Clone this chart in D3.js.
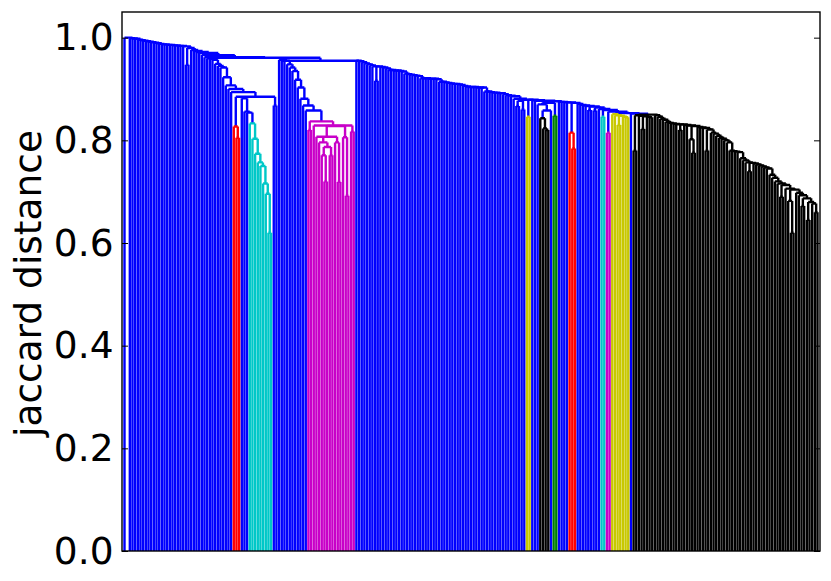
<!DOCTYPE html>
<html><head><meta charset="utf-8">
<script src="https://cdnjs.cloudflare.com/ajax/libs/d3/7.8.5/d3.min.js"></script>
<style>html,body{margin:0;background:#fff}svg{display:block}</style>
</head><body><svg id="c" width="831" height="581"></svg>
<script>
// A tree node is [mergeHeight, child, child, ...]; 0 is a leaf.
// Chain items: a number (leaf merged with the rest at that height) or [height, subtree].
const yTicks = [0, 0.2, 0.4, 0.6, 0.8, 1.0];
const yLabel = "jaccard distance";
const BLUE = "#0000ff", RED = "#ff0000", CYAN = "#00c8c8", MAGENTA = "#c800c8",
      YELLOW = "#c8c800", BLACK = "#000000", GREEN = "#008000";

const headHeights = [1.0, .999, .9985, .998, .996, .995, .994, .993, .992, .991, .99, .989, .988, .987, .987,
  .986, .986, .985, .985, .984, .984, .983, [.98, [.947, 0, 0]], .976, .974, .972, .97, .966, .962];
const stairHeights = [.96, .959, .957, .949, .945, .942, .923, .907, .9, .894];
const redA = [.827, 0, [.805, 0, 0]];
const blueStepHeights = [.882, .856, .854];
const cyanHeights = [.833, .803, .774, .757, .75, .716, .696, .62];
const pairAfterCyan = [.868, 0, 0];
const blockBHeights = [.957, .956, .955, .948, .942, .935, .918, .903, .881, .868, .858];
const magentaTree = [.837, [.82, 0, 0],
  [.829, 0,
    [.828,
      [.807, 0,
        [.796, 0,
          [.787, [.771, 0, [.72, 0, 0]], [.771, 0, 0]]],
        [.796, 0, [.719, 0, 0]]],
      [.806, 0, [.692, 0, 0]]],
    [.817, 0, 0]]];
const bigHeights = [.955, .954, .952, .95, .948, .946, .944, [.944, [.916, 0, 0]], .943, .942, .94, .937, .937,
  .936, .936, .935, .934, .93, .929, .928, .927, .926, .925, .921, .921, .921, .92, .92, .92, .919, .914, .914,
  .913, .912, .911, .91, .91, .909, .908, .906, .905, .904, .904, .904, .903, .903, .903, .895, .895, .894, .893,
  .893, .892, .892, .89, .888, .887, .886, .881];
const smallFork = [.877, [.867, 0, 0], [.86, 0, 0]];
const yellowPair = [.846, 0, 0];
const midHeights = [.878, .877];
const blackSmall = [.843, 0, [.823, 0, [.82, 0, 0]]];
const greenPair = [.848, 0, 0];
const afterGreenHeights = [.875, .875, .874, .874];
const redB = [.815, 0, [.784, 0, 0]];
const afterRedHeights = [.871, .869, .868, .867, [.866, [.859, 0, 0]], [.864, [.858, 0, 0]], .861];
const cyanPair = [.846, 0, 0];
const magentaPair = [.815, 0, 0];
const yellowHeights = [.851, .849, [.848, [.83, 0, 0]], .846, .845];
const blackLeftHeights = [[.849, [.78, 0, 0]], .848, [.847, [.822, 0, 0]], .846, .845];
const blackRightHeights = [.849, .846, .842, .84, .836, .834, .833, .832, .831, [.831, [.82, 0, 0]], .83, .829,
  [.828, [.802, 0, [.776, 0, 0]]], .826, .825, .824, [.821, [.78, 0, 0]], .815, .813, .809, .805, .803, .8, .796,
  .78, .779, .778, .777, .765, .761, .757, [.756, [.74, 0, 0]], .755, .753, .751, .749, .747, .745, .733, .727,
  .72, .716, [.713, [.69, 0, 0]], .706, [.704, [.682, 0, [.62, 0, 0]]], .698, .693, [.687, [.672, 0, 0]],
  [.68, [.645, 0, 0]], .677];
const blackTail = [.66, 0, 0];
const joinHeights = { top: .961, second: .955 };

const colourOf = new Map();
const paint = (t, c) => (colourOf.set(t, c), t);
function chain(items, tail) {
  let node = tail;
  for (let i = items.length - 1; i >= 0; i--) {
    const it = items[i];
    node = typeof it === "number" ? [it, 0, node] : [it[0], it[1], node];
  }
  return node;
}

// assemble
const black = paint([.85,
  chain(blackLeftHeights, 0),
  chain(blackRightHeights, blackTail)], BLACK);
const tailPart = [.853, paint(chain(yellowHeights, 0), YELLOW), [.852, 0, black]];
const wFork = [.873,
  [.87, 0, [.858, paint(blackSmall, BLACK), 0]],
  paint(greenPair, GREEN)];
const bigChain = chain([
  ...bigHeights,
  [.879, smallFork],
  [.879, paint(yellowPair, YELLOW)],
  ...midHeights,
  [.876, wFork],
  ...afterGreenHeights,
  [.873, paint(redB, RED)],
  ...afterRedHeights,
  [.859, paint(cyanPair, CYAN)],
  [.856, paint(magentaPair, MAGENTA)]
], tailPart);
const blockB = chain(blockBHeights, paint(magentaTree, MAGENTA));
const cyanPart = paint(chain(cyanHeights, 0), CYAN);
const forkB = [.885, paint(redA, RED), chain(blueStepHeights, cyanPart), pairAfterCyan];
const leftStairs = chain(stairHeights, forkB);
const rootTree = chain(headHeights, [joinHeights.top, leftStairs, [joinHeights.second, blockB, bigChain]]);

const margin = { left: 122, right: 820, top: 12, bottom: 551 };
const root = d3.hierarchy(rootTree, d => Array.isArray(d) ? d.slice(1) : null);
const leaves = root.leaves();
// the first leaf stands alone, one slot away from the rest
const slot = i => i === 0 ? 0 : i + 1;
const x = d3.scaleLinear().domain([0, slot(leaves.length - 1)]).range([124.5, 817.5]);
const y = d3.scaleLinear().domain([0, 1.05]).range([margin.bottom, margin.top]);

leaves.forEach((l, i) => { l.px = x(slot(i)); });
root.eachAfter(n => {
  if (n.children) n.px = (n.children[0].px + n.children[n.children.length - 1].px) / 2;
});
root.eachBefore(n => {
  const own = colourOf.get(n.data);
  n.col = own || (n.parent ? n.parent.col : BLUE);
});
const heightOf = n => n.children ? n.data[0] : 0;

const svg = d3.select("#c");
svg.append("g").attr("fill", "none").attr("stroke-width", 2.4)
  .selectAll("path")
  .data(root.descendants().filter(n => n.children))
  .join("path")
  .attr("stroke", n => n.col)
  .attr("d", n => {
    const p = d3.path();
    const top = y(heightOf(n));
    const first = n.children[0], last = n.children[n.children.length - 1];
    p.moveTo(first.px, top); p.lineTo(last.px, top);
    n.children.forEach(c => { p.moveTo(c.px, top); p.lineTo(c.px, y(heightOf(c))); });
    return p.toString();
  });

const left = svg.append("g").attr("transform", `translate(${margin.left},0)`)
  .call(d3.axisLeft(y).tickValues(yTicks).tickFormat(d3.format(".1f")).tickSize(-6).tickSizeOuter(0).tickPadding(8.5));
const right = svg.append("g").attr("transform", `translate(${margin.right},0)`)
  .call(d3.axisRight(y).tickValues(yTicks).tickFormat("").tickSize(-6).tickSizeOuter(0));
[left, right].forEach(g => {
  g.select(".domain").remove();
  g.selectAll("line").attr("stroke", "#000").attr("stroke-width", 1);
});
left.selectAll("text").attr("font-family", "'DejaVu Sans'").attr("font-size", 37.5).attr("fill", "#000");

svg.append("rect").attr("x", margin.left).attr("y", margin.top)
  .attr("width", margin.right - margin.left).attr("height", margin.bottom - margin.top)
  .attr("fill", "none").attr("stroke", "#000").attr("stroke-width", 1.4);

svg.append("text").text(yLabel)
  .attr("transform", `translate(41,${(130 + 437) / 2}) rotate(-90)`)
  .attr("text-anchor", "middle").attr("font-family", "'DejaVu Sans'").attr("font-size", 37.5).attr("fill", "#000");
</script></body></html>
